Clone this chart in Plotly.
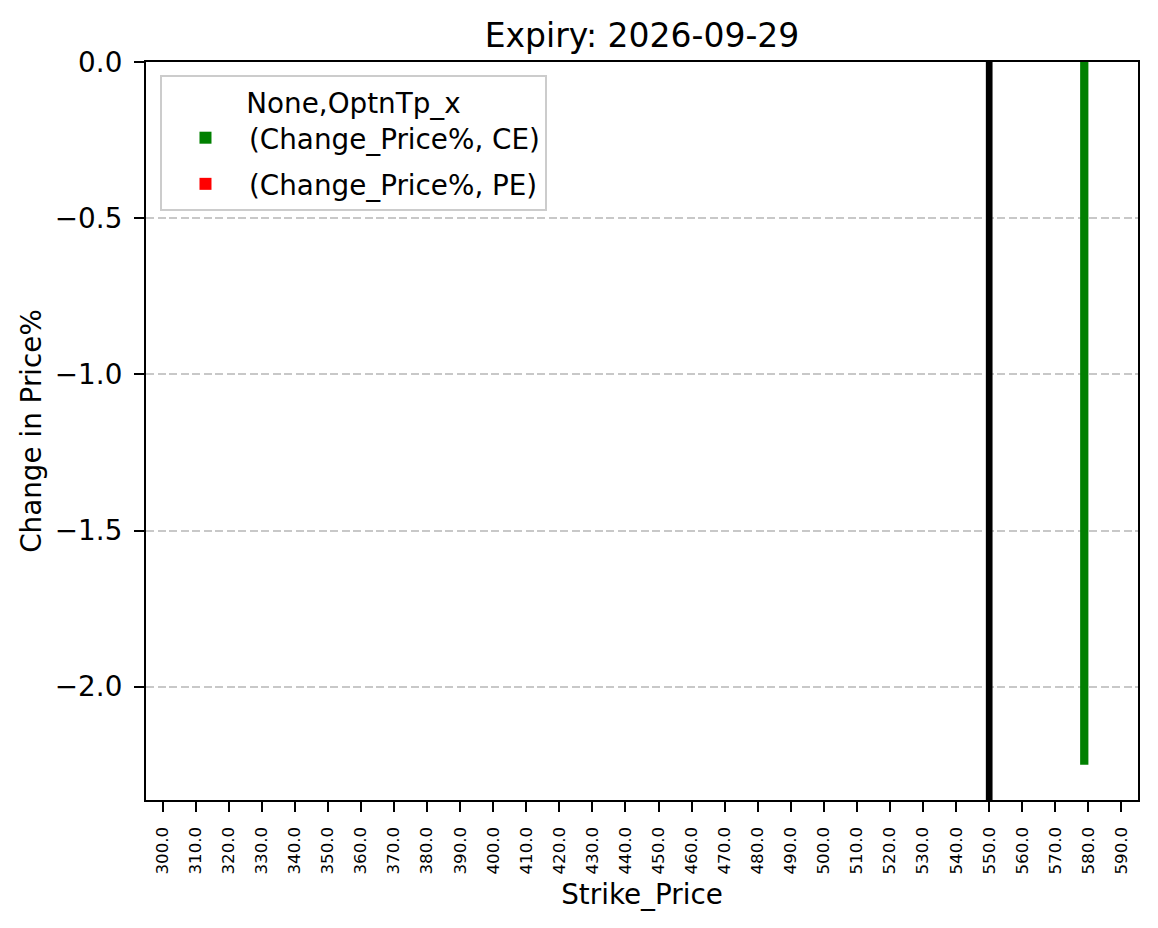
import plotly.graph_objects as go

# ---- data ----
strikes = [300.0, 310.0, 320.0, 330.0, 340.0, 350.0, 360.0, 370.0, 380.0, 390.0,
           400.0, 410.0, 420.0, 430.0, 440.0, 450.0, 460.0, 470.0, 480.0, 490.0,
           500.0, 510.0, 520.0, 530.0, 540.0, 550.0, 560.0, 570.0, 580.0, 590.0]
ce_change = [None] * 28 + [-2.25, None]
pe_change = [None] * 30
spot_strike = 550.0
y_ticks = [0.0, -0.5, -1.0, -1.5, -2.0]

cats = [f"{s:.1f}" for s in strikes]
FONT = "DejaVu Sans"

fig = go.Figure()
fig.add_trace(go.Bar(x=cats, y=ce_change, name="(Change_Price%, CE)", legendgroup="ce",
                     marker=dict(color="green", line=dict(width=0))))
fig.add_trace(go.Bar(x=cats, y=pe_change, name="(Change_Price%, PE)", legendgroup="pe",
                     marker=dict(color="red", line=dict(width=0))))

fig.add_vline(x=cats.index(f"{spot_strike:.1f}"), line=dict(color="black", width=6.7))

fig.update_layout(
    width=1158, height=928,
    margin=dict(l=146, r=20, t=62, b=128),
    paper_bgcolor="white", plot_bgcolor="white",
    font=dict(family=FONT, color="black", size=28),
    barmode="group", bargap=0.5, bargroupgap=0,
    title=dict(text="Expiry: 2026-09-29", x=(146 + 1138) / 2 / 1158, xanchor="center",
               y=1 - 35 / 928, yanchor="middle", font=dict(size=33)),
    legend=dict(
        title=dict(text="None,OptnTp_x", side="top center", font=dict(size=27.8)),
        x=0.0141, y=0.9824, xanchor="left", yanchor="top",
        bgcolor="rgba(255,255,255,0.8)", bordercolor="#cccccc", borderwidth=2,
        font=dict(size=27.8), tracegroupgap=7, itemwidth=77,
    ),
    showlegend=True,
)

fig.update_xaxes(
    type="category", range=[-0.5, len(cats) - 0.5],
    showline=True, mirror=True, linecolor="black", linewidth=2.2,
    ticks="outside", ticklen=10, tickwidth=2.2, tickcolor="black",
    tickangle=-90, tickfont=dict(size=16.7), ticklabelstandoff=8,
    showgrid=False, zeroline=False,
    title=dict(text="Strike_Price", font=dict(size=27.8), standoff=11),
)
fig.update_yaxes(
    range=[-2.3625, 0.0],
    tickvals=y_ticks, tickformat=".1f",
    showline=True, mirror=True, linecolor="black", linewidth=2.2,
    ticks="outside", ticklen=10, tickwidth=2.2, tickcolor="black",
    tickfont=dict(size=27.8), ticklabelstandoff=6,
    showgrid=True, gridcolor="#c8c8c8", gridwidth=1.6, griddash="8px,3.5px",
    zeroline=False,
    title=dict(text="Change in Price%", font=dict(size=27.8), standoff=5),
)

fig.write_html("out.html")
